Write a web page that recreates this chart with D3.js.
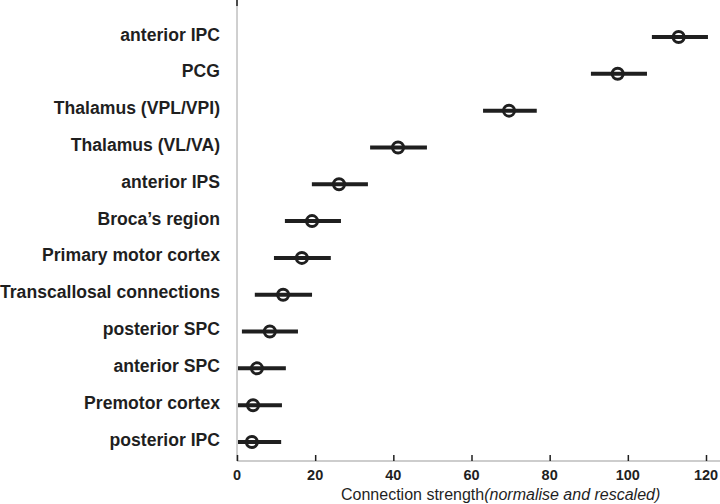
<!DOCTYPE html>
<html>
<head>
<meta charset="utf-8">
<script src="https://cdn.jsdelivr.net/npm/d3@7"></script>
<style>
  body { margin: 0; background: #fff; }
  svg { display: block; font-family: "Liberation Sans", Arial, sans-serif; }
</style>
</head>
<body>
<svg id="chart" width="720" height="504"></svg>
<script>
// regions, top to bottom
const regions = [
    'anterior IPC', 'PCG', 'Thalamus (VPL/VPI)', 'Thalamus (VL/VA)', 'anterior IPS',
    "Broca\u2019s region", 'Primary motor cortex', 'Transcallosal connections',
    'posterior SPC', 'anterior SPC', 'Premotor cortex', 'posterior IPC'
];
const strength = [113.0, 97.4, 69.6, 41.2, 26.1, 19.2, 16.6, 11.8, 8.4, 5.1, 4.1, 3.8];
const lower = [105.9, 90.3, 62.7, 33.8, 18.9, 12.0, 9.2, 4.3, 1.0, 0, 0, 0];
const upper = [120.5, 104.9, 76.7, 48.6, 33.5, 26.6, 24.0, 19.2, 15.6, 12.5, 11.5, 11.3];
const xTicks = [0, 20, 40, 60, 80, 100, 120];

const svg = d3.select('#chart');
const x = d3.scaleLinear().domain([0, 120]).range([237, 706]);
const y = d3.scalePoint().domain(regions).range([37, 442]);
const axisY = 461;
const ink = '#1f1f1f';

// axis lines
svg.append('line')
    .attr('x1', x(0)).attr('x2', x(0)).attr('y1', 0).attr('y2', axisY)
    .attr('stroke', '#a0a0a0').attr('stroke-width', 1);
svg.append('line')
    .attr('x1', x(0)).attr('x2', x(0)).attr('y1', 0).attr('y2', 6)
    .attr('stroke', ink).attr('stroke-width', 1.5);
svg.append('line')
    .attr('x1', x(0)).attr('x2', 720).attr('y1', axisY).attr('y2', axisY)
    .attr('stroke', '#bdbdbd').attr('stroke-width', 1.5);

// x ticks (pointing inward)
const xAxis = d3.axisTop(x).tickValues(xTicks).tickSize(6).tickFormat('');
const gx = svg.append('g').attr('transform', `translate(0,${axisY})`).call(xAxis);
gx.select('.domain').remove();
gx.selectAll('.tick line').attr('stroke', ink).attr('stroke-width', 1.5);

svg.append('g').selectAll('text')
    .data(xTicks)
    .enter()
    .append('text')
    .attr('x', d => x(d))
    .attr('y', 480)
    .attr('text-anchor', 'middle')
    .style('font-size', '14.5px')
    .style('font-weight', 'bold')
    .attr('fill', ink)
    .text(d => d);

// axis title
const title = svg.append('text')
    .attr('x', 341)
    .attr('y', 500)
    .style('font-size', '16px')
    .attr('fill', ink);
title.append('tspan').text('Connection strength');
title.append('tspan').style('font-style', 'italic').text('(normalise and rescaled)');

// region labels
svg.append('g').selectAll('text')
    .data(regions)
    .enter()
    .append('text')
    .attr('x', 220)
    .attr('y', d => y(d) + 3.5)
    .attr('text-anchor', 'end')
    .style('font-size', '17.6px')
    .style('font-weight', 'bold')
    .attr('fill', ink)
    .text(d => d);

// whiskers
svg.append('g').selectAll('line')
    .data(regions)
    .enter()
    .append('line')
    .attr('x1', (d, i) => x(lower[i]) + 1)
    .attr('x2', (d, i) => x(upper[i]))
    .attr('y1', d => y(d))
    .attr('y2', d => y(d))
    .attr('stroke', ink)
    .attr('stroke-width', 4);

// points
svg.append('g').selectAll('circle')
    .data(regions)
    .enter()
    .append('circle')
    .attr('cx', (d, i) => x(strength[i]))
    .attr('cy', d => y(d))
    .attr('r', 5.5)
    .attr('fill', 'none')
    .attr('stroke', ink)
    .attr('stroke-width', 3);
</script>
</body>
</html>
